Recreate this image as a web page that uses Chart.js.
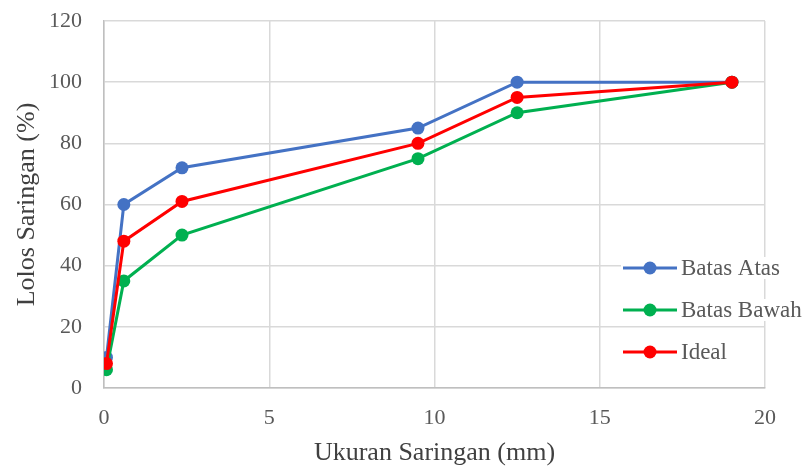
<!DOCTYPE html>
<html>
<head>
<meta charset="utf-8">
<script src="https://cdn.jsdelivr.net/npm/chart.js@4/dist/chart.umd.min.js"></script>
<style>
  html, body { margin: 0; padding: 0; background: #fff; }
  #wrap { width: 808px; height: 467px; }
</style>
</head>
<body>
<div id="wrap"><canvas id="c" width="808" height="467"></canvas></div>
<script>
const sieveSizes = [0.075, 0.6, 2.36, 9.5, 12.5, 19];
const batasAtas = [10, 60, 72, 85, 100, 100];
const batasBawah = [6, 35, 50, 75, 90, 100];
const ideal = [8, 48, 61, 80, 95, 100];
const seriesNames = ['Batas Atas', 'Batas Bawah', 'Ideal'];
const seriesColors = ['#4472C4', '#00B050', '#FF0000'];
const xTitle = 'Ukuran Saringan (mm)';
const yTitle = 'Lolos Saringan (%)';

const FONT = "'Liberation Serif', 'Times New Roman', serif";

function pts(vals) { return sieveSizes.map((x, i) => ({ x: x, y: vals[i] })); }

const seriesValues = [batasAtas, batasBawah, ideal];
const datasets = seriesValues.map((v, i) => ({
  label: seriesNames[i],
  data: pts(v),
  borderColor: seriesColors[i],
  backgroundColor: seriesColors[i],
  borderWidth: 3,
  pointRadius: 6.5,
  pointHoverRadius: 6.5,
  pointBorderWidth: 0,
  tension: 0,
  order: seriesValues.length - i
}));

const legendPlugin = {
  id: 'insideLegend',
  afterDatasetsDraw(chart) {
    const ctx = chart.ctx;
    ctx.save();
    ctx.font = '23px ' + FONT;
    ctx.textBaseline = 'middle';
    const x0 = 623, yStart = 268, gap = 42;
    chart.data.datasets.forEach((ds, i) => {
      const y = yStart + i * gap;
      const tw = ctx.measureText(ds.label).width;
      ctx.fillStyle = '#ffffff';
      ctx.fillRect(x0 - 2, y - 11, 60 + tw + 4, 22);
      ctx.strokeStyle = ds.borderColor;
      ctx.lineWidth = 3;
      ctx.beginPath();
      ctx.moveTo(x0, y);
      ctx.lineTo(x0 + 54, y);
      ctx.stroke();
      ctx.fillStyle = ds.borderColor;
      ctx.beginPath();
      ctx.arc(x0 + 27, y, 6.5, 0, Math.PI * 2);
      ctx.fill();
      ctx.fillStyle = '#595959';
      ctx.fillText(ds.label, x0 + 58, y + 1);
    });
    ctx.restore();
  }
};

new Chart(document.getElementById('c'), {
  type: 'line',
  data: { datasets: datasets },
  options: {
    responsive: false,
    animation: false,
    events: [],
    layout: { padding: { left: 0, top: 0, right: 43, bottom: 0 } },
    plugins: { legend: { display: false }, tooltip: { enabled: false } },
    scales: {
      x: {
        type: 'linear',
        min: 0, max: 20,
        ticks: { stepSize: 5, color: '#595959', font: { family: FONT, size: 22 }, padding: 17, maxRotation: 0 },
        grid: { color: '#D9D9D9', lineWidth: 1.5, drawTicks: false },
        border: { color: '#BFBFBF', width: 1.5 },
        title: { display: true, text: xTitle, color: '#404040', font: { family: FONT, size: 26, lineHeight: 1.05 }, padding: { top: 0, bottom: 0 } },
        afterFit(s) { s.height = 79; }
      },
      y: {
        min: 0, max: 120,
        ticks: { stepSize: 20, color: '#595959', font: { family: FONT, size: 22 }, padding: 22 },
        grid: { color: '#D9D9D9', lineWidth: 1.5, drawTicks: false },
        border: { color: '#BFBFBF', width: 1.5 },
        title: { display: true, text: yTitle, color: '#404040', font: { family: FONT, size: 26 }, padding: { top: 12, bottom: 0 } },
        afterFit(s) { s.width = 104; s.paddingTop = 21; s.paddingBottom = 0; }
      }
    }
  },
  plugins: [legendPlugin]
});
</script>
</body>
</html>
